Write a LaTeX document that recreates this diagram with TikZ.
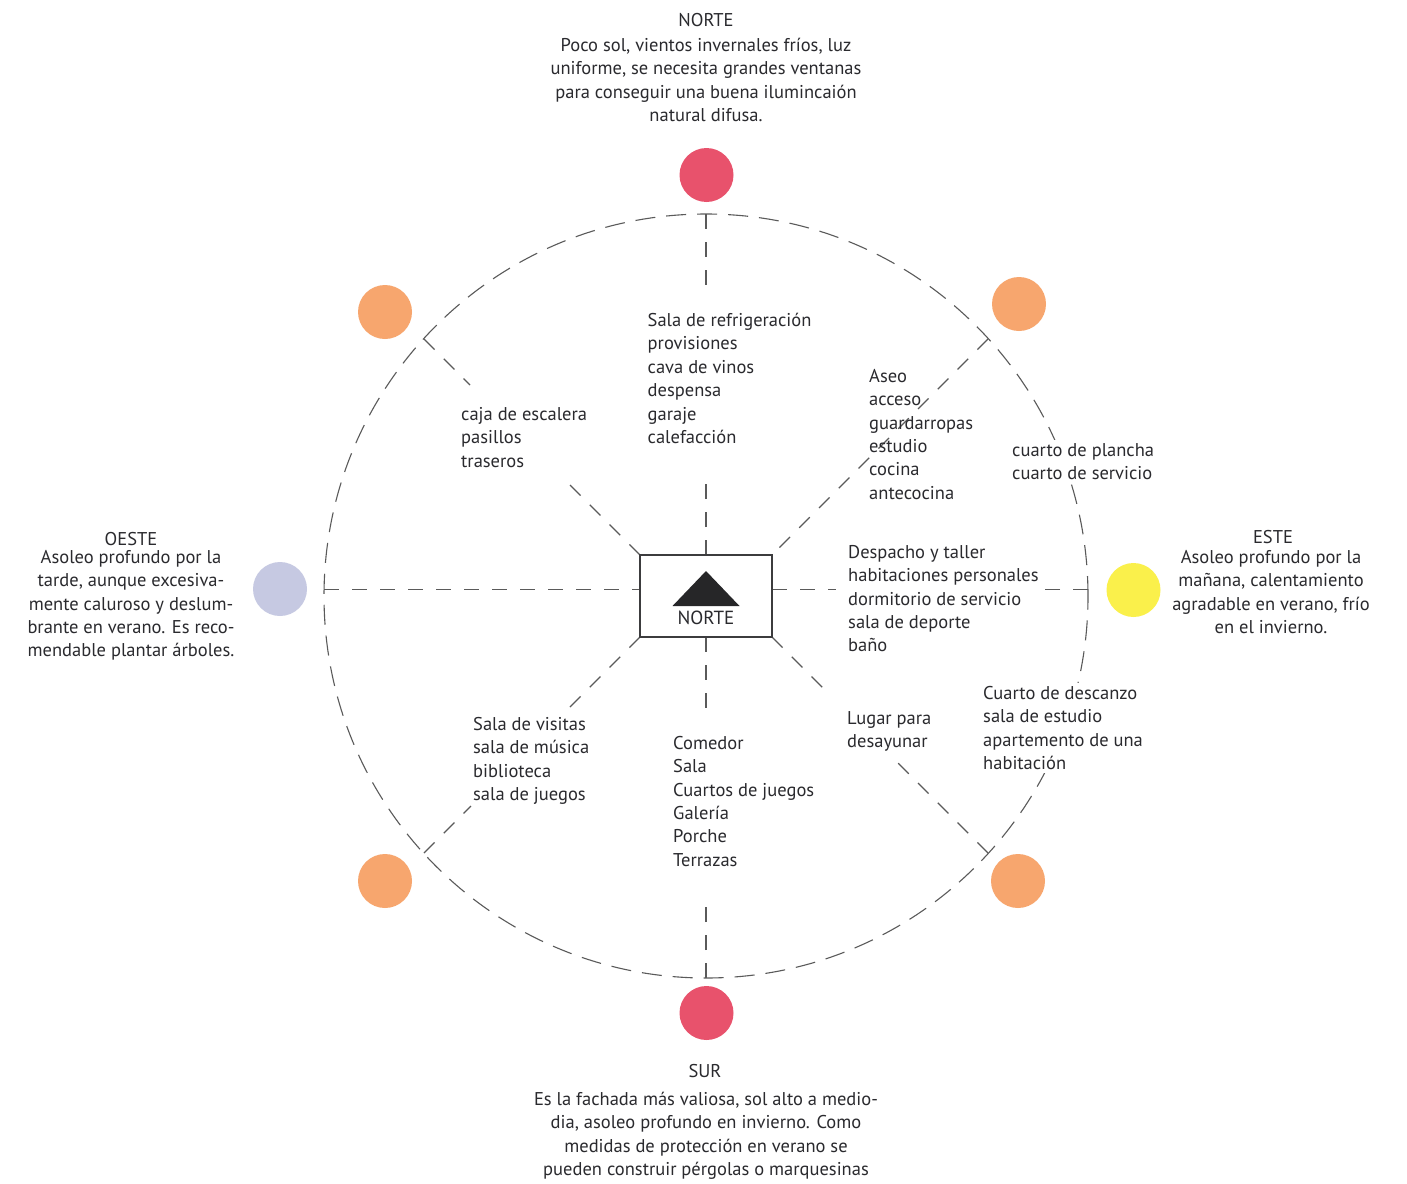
\documentclass[tikz,border=0pt]{standalone}
\usepackage{fontspec}
\setmainfont{PT Sans}
\definecolor{ink}{RGB}{42,42,46}
\definecolor{linegray}{RGB}{90,90,90}
\definecolor{boxgray}{RGB}{60,60,62}
\definecolor{arrowink}{RGB}{38,38,40}
\definecolor{sunred}{RGB}{232,82,108}
\definecolor{sunorange}{RGB}{247,166,110}
\definecolor{sunyellow}{RGB}{250,240,75}
\definecolor{sunlilac}{RGB}{198,201,226}

\begin{document}
\begin{tikzpicture}[x=1pt,y=-1pt,
  txt/.style={anchor=north west, align=left, inner sep=0pt, text=ink,
    font=\fontsize{18.5}{23.4}\selectfont,
    execute at begin node={\rule{0pt}{15pt}}},
  ctxt/.style={txt, anchor=north, align=center},
  cut/.style={fill=white, inner sep=3pt},
  ray/.style={draw=linegray, line width=1.1pt, dash pattern=on 15pt off 13pt},
  ring/.style={draw=linegray, line width=1.1pt, dash pattern=on 20pt off 11pt},
  sun/.style={circle, minimum size=54pt, inner sep=0pt, draw=none},
]
\useasboundingbox (0,0) rectangle (1407,1183);
\fill[white] (0,0) rectangle (1407,1183);

% orientation ring
\node[ring, circle, minimum size=764pt, inner sep=0pt, outer sep=0pt] (ring) at (706,596) {};

% ray end points
\coordinate (nOut) at (706,214);   \coordinate (nMid) at (706,292);   \coordinate (nIn) at (706,482);
\coordinate (sOut) at (706,978);   \coordinate (sMid) at (706,902);   \coordinate (sIn) at (706,714);
\coordinate (wOut) at (324,589.5); \coordinate (wIn) at (640,589.5);
\coordinate (eIn) at (772,589.5);  \coordinate (eMidA) at (836,589.5);
\coordinate (eMidB) at (1038,589.5); \coordinate (eOut) at (1088,589.5);
\coordinate (neOut) at (988,339);
\coordinate (nwOut) at (424,339);  \coordinate (nwMid) at (470,385);  \coordinate (nwIn) at (566,481);
\coordinate (swOut) at (424,853);  \coordinate (swMid) at (471,806);  \coordinate (swIn) at (567,710);
\coordinate (seOut) at (988,853);  \coordinate (seMid) at (896,761);  \coordinate (seIn) at (825,690);

% central compass box (geometry only, used by the rays)
\path (706,596) node[minimum width=132pt, minimum height=82pt, inner sep=0pt, outer sep=0pt] (box) {};

% rays
\draw[ray] (nOut) -- (nMid);  \draw[ray] (box.north) -- (nIn);
\draw[ray] (sOut) -- (sMid);  \draw[ray] (box.south) -- (sIn);
\draw[ray] (wOut) -- (wIn);
\draw[ray] (eIn) -- (eMidA);  \draw[ray] (eOut) -- (eMidB);
\draw[ray] (neOut) -- (box.north east);
\draw[ray] (nwOut) -- (nwMid); \draw[ray] (box.north west) -- (nwIn);
\draw[ray] (swOut) -- (swMid); \draw[ray] (box.south west) -- (swIn);
\draw[ray] (seOut) -- (seMid); \draw[ray] (box.south east) -- (seIn);

% compass box drawn on top of the rays
\draw[boxgray, line width=2.3pt, fill=white] (box.north west) rectangle (box.south east);
\fill[arrowink] (706,571) -- (739.5,606) -- (672.5,606) -- cycle;
\node[ctxt, font=\fontsize{19}{23.4}\selectfont] (boxlabel) at (706,609) {NORTE};

% sun positions
\node[sun, fill=sunred]    (dN)  at (706.5,175) {};
\node[sun, fill=sunred]    (dS)  at (706.5,1013) {};
\node[sun, fill=sunorange] (dNE) at (1019,304) {};
\node[sun, fill=sunorange] (dSE) at (1018,881) {};
\node[sun, fill=sunorange] (dSW) at (385,881) {};
\node[sun, fill=sunorange] (dNW) at (385,312) {};
\node[sun, fill=sunyellow] (dE)  at (1133.5,590) {};
\node[sun, fill=sunlilac]  (dW)  at (280,589) {};

% orientation descriptions
\node[ctxt] (tNorte) at (706,13) {NORTE\\[1.5pt]Poco sol, vientos invernales fríos, luz\\uniforme, se necesita grandes ventanas\\para conseguir una buena ilumincaión\\natural difusa.};
\node[ctxt] (tSur) at (705,1062) {SUR};
\node[ctxt] (tSurD) at (706,1092) {Es la fachada más valiosa, sol alto a medio-\\dia, asoleo profundo en invierno. Como\\medidas de protección en verano se\\pueden construir pérgolas o marquesinas};
\node[ctxt] (tOeste) at (131,530) {OESTE};
\node[ctxt] (tOesteD) at (131,550) {Asoleo profundo por la\\tarde, aunque excesiva-\\mente caluroso y deslum-\\brante en verano. Es reco-\\mendable plantar árboles.};
\node[ctxt] (tEste) at (1273,528) {ESTE};
\node[ctxt] (tEsteD) at (1271,550) {Asoleo profundo por la\\mañana, calentamiento\\agradable en verano, frío\\en el invierno.};

% rooms by orientation
\node[txt] (rN)  at (647.5,313) {Sala de refrigeración\\provisiones\\cava de vinos\\despensa\\garaje\\calefacción};
\node[txt] (rNW) at (461,407) {caja de escalera\\pasillos\\traseros};
\node[txt] (rNE) at (869,369) {Aseo\\acceso\\guardarropas\\estudio\\cocina\\antecocina};
\node[txt, cut] (rNEo) at (1009,440) {cuarto de plancha\\cuarto de servicio};
\node[txt] (rE)  at (848,545) {Despacho y taller\\habitaciones personales\\dormitorio de servicio\\sala de deporte\\baño};
\node[txt, cut] (rSEo) at (980,683) {Cuarto de descanzo\\sala de estudio\\apartemento de una\\habitación};
\node[txt] (rSE) at (847,711) {Lugar para\\desayunar};
\node[txt] (rS)  at (673,736) {Comedor\\Sala\\Cuartos de juegos\\Galería\\Porche\\Terrazas};
\node[txt] (rSW) at (473,717) {Sala de visitas\\sala de música\\biblioteca\\sala de juegos};
\end{tikzpicture}
\end{document}
